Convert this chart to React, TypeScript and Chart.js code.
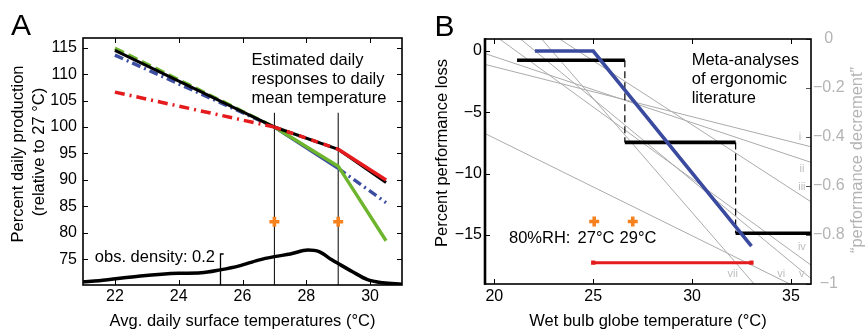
import React, { useEffect, useRef } from 'react';
import { Chart, registerables } from 'chart.js';
Chart.register(...registerables);

const FONT = "'Liberation Sans', Arial, Helvetica, sans-serif";
Chart.defaults.font.family = FONT;

// ---------------- Panel A data ----------------
const aXRange = [21, 31];
const aYRange = [70.14, 116.83];
const aXTicks = [22, 24, 26, 28, 30];
const aYTicks = [75, 80, 85, 90, 95, 100, 105, 110, 115];
const aLineX = [22, 27, 29, 30.5];
const aBlack = [114.5, 100, 95.8, 89.5];
const aGreen = [114.9, 100, 92.6, 78.5];
const aBlue = [113.6, 100, 92.2, 85.7];
const aRed = [106.6, 100, 95.8, 90.0];
const aRefX = [27, 29];
const aRefTop = 102.7;
const aMarkerX = [27, 29];
const aMarkerY = [82.1, 82.1];
const aDensX = [21, 21.5, 22.8, 24, 24.7, 25.3, 25.9, 26.5, 27, 27.5, 28.05, 28.4, 28.8, 29, 29.45, 29.9, 30.4, 31];
const aDensY = [70.75, 70.95, 71.85, 72.35, 72.45, 73.0, 73.75, 74.85, 75.5, 76.0, 76.75, 76.45, 74.9, 74.2, 72.65, 71.2, 70.55, 70.3];
const aDensBarX = [25.31, 25.41];
const aDensBarTop = 76.0;
const aNote = ['Estimated daily', 'responses to daily', 'mean temperature'];
const aDensLabel = 'obs. density: 0.2';
const aXTitle = 'Avg. daily surface temperatures (°C)';
const aYTitle = ['Percent daily production', '(relative to 27 °C)'];

// ---------------- Panel B data ----------------
const bXRange = [19.53, 36.01];
const bYRange = [-18.99, 0.98];
const bY2Range = [-1, 0];
const bXTicks = [20, 25, 30, 35];
const bYTicks = [0, -5, -10, -15];
const bY2Ticks = [0, -0.2, -0.4, -0.6, -0.8, -1];
const bBlueX = [22.05, 25, 33];
const bBlueY = [0, 0, -15.9];
const bStepX = [21.15, 26.6, 32.2, 36.01];
const bStepY = [-0.75, -7.45, -14.85];
const bRangeX = [25, 33];
const bRangeY = [-17.25, -17.25];
const bMarkerX = [25.05, 27.0];
const bMarkerY = [-13.9, -13.9];
const bMarkerLabels = ['27°C', '29°C'];
const bRHLabel = '80%RH:';
const bGrayNames = ['i', 'ii', 'iii', 'iv', 'v', 'vi', 'vii'];
const bGrayX0 = [19.5, 19.5, 23.33, 20.29, 21.35, 19.5, 22.41];
const bGrayY0 = [-1.08, -0.19, 0.95, 0.95, 0.95, -6.7, 0.95];
const bGrayX1 = [36, 36, 36, 36, 36, 34.95, 33.14];
const bGrayY1 = [-7.8, -9.07, -12.28, -17.44, -18.53, -19, -19];
const bGrayLabelX = [35.45, 35.55, 35.55, 35.55, 35.54, 34.5, 32.05];
const bGrayLabelY = [-6.98, -9.62, -11.06, -16.0, -18.2, -18.2, -18.2];
const bNote = ['Meta-analyses', 'of ergonomic', 'literature'];
const bXTitle = 'Wet bulb globe temperature (°C)';
const bYTitle = 'Percent performance loss';
const bY2Title = '\u201cperformance decrement\u201d';

const ORANGE = '#f5821f';
const GRAY_TXT = '#b4b4b4';
const MINUS = '\u2212';

const pts = (xs: number[], ys: number[]) => xs.map((x, i) => ({ x, y: ys[i] }));

type TextItem = {
  text: string; x: number; y: number; size?: number; color?: string;
  align?: CanvasTextAlign; baseline?: CanvasTextBaseline; rotate?: number; data?: boolean;
};

const makeTextPlugin = (items: TextItem[]) => ({
  id: 'texts',
  afterDraw(chart: any) {
    const ctx = chart.ctx as CanvasRenderingContext2D;
    items.forEach((it) => {
      let x = it.x, y = it.y;
      if (it.data) {
        x = chart.scales.x.getPixelForValue(it.x);
        y = chart.scales.y.getPixelForValue(it.y);
      }
      ctx.save();
      ctx.font = `${it.size ?? 16.5}px ${FONT}`;
      ctx.fillStyle = it.color ?? '#000';
      ctx.textAlign = it.align ?? 'left';
      ctx.textBaseline = it.baseline ?? 'middle';
      ctx.translate(x, y);
      if (it.rotate) ctx.rotate(it.rotate);
      ctx.fillText(it.text, 0, 0);
      ctx.restore();
    });
  },
});

const makeBoxPlugin = (leftWidth: number) => ({
  id: 'box',
  afterDatasetsDraw(chart: any) {
    const { ctx, chartArea: ca, scales } = chart;
    const L = 5;
    const seg = (x0: number, y0: number, x1: number, y1: number) => {
      ctx.beginPath(); ctx.moveTo(x0, y0); ctx.lineTo(x1, y1); ctx.stroke();
    };
    ctx.save();
    ctx.strokeStyle = '#000';
    ctx.lineWidth = 1;
    scales.x.ticks.forEach((t: any) => {
      const p = Math.round(scales.x.getPixelForValue(t.value)) + 0.5;
      seg(p, ca.bottom, p, ca.bottom - L);
      seg(p, ca.top, p, ca.top + L);
    });
    scales.y.ticks.forEach((t: any) => {
      const p = Math.round(scales.y.getPixelForValue(t.value)) + 0.5;
      seg(ca.left, p, ca.left + L, p);
      if (!scales.y2) seg(ca.right, p, ca.right - L, p);
    });
    if (scales.y2) {
      ctx.strokeStyle = '#555';
      scales.y2.ticks.forEach((t: any) => {
        const p = Math.round(scales.y2.getPixelForValue(t.value)) + 0.5;
        seg(ca.right, p, ca.right - L, p);
      });
    }
    ctx.strokeStyle = '#000';
    ctx.lineWidth = 1.6;
    ctx.strokeRect(ca.left, ca.top, ca.right - ca.left, ca.bottom - ca.top);
    if (leftWidth > 1.6) {
      ctx.lineWidth = leftWidth;
      seg(ca.left, ca.top - 0.8, ca.left, ca.bottom + 0.8);
    }
    ctx.restore();
  },
});

const setTicks = (arr: number[]) => (s: any) => { s.ticks = arr.map((v) => ({ value: v })); };
const minusFmt = (v: number) => (v < 0 ? MINUS + String(Math.abs(v)) : String(v));

const lineDs = (data: any[], color: string, width: number, extra: any = {}) => ({
  data, borderColor: color, backgroundColor: color, borderWidth: width,
  pointRadius: 0, pointHoverRadius: 0, fill: false, tension: 0, ...extra,
});

const markerDs = (data: any[]) => ({
  data, showLine: false, order: 0,
  pointStyle: 'cross', pointRadius: 5, pointBorderWidth: 3.6,
  pointBorderColor: ORANGE, borderColor: ORANGE, backgroundColor: ORANGE,
});

function configA(): any {
  const datasets: any[] = [
    lineDs(pts(aLineX, aRed), '#e41a1c', 3.5, {
      order: 1,
      segment: { borderDash: (c: any) => (c.p0DataIndex === 0 ? [10, 5, 2, 5] : c.p0DataIndex === 1 ? [7, 6] : undefined) },
    }),
    lineDs(pts(aLineX, aBlack), '#000000', 3, { order: 2 }),
    lineDs(pts(aLineX, aGreen), '#6cb52d', 3.4, {
      order: 3,
      segment: { borderDash: (c: any) => (c.p0DataIndex === 0 ? [10, 5] : undefined) },
    }),
    lineDs(pts(aLineX, aBlue), '#3c4ea0', 3.4, {
      order: 4,
      segment: { borderDash: (c: any) => (c.p0DataIndex === 1 ? undefined : [9, 4, 2, 4]) },
    }),
    lineDs(pts(aDensX, aDensY), '#000000', 3.5, { order: 5, tension: 0.4, cubicInterpolationMode: 'monotone' }),
    lineDs([{ x: aDensBarX[0], y: aYRange[0] }, { x: aDensBarX[0], y: aDensBarTop }, { x: aDensBarX[1], y: aDensBarTop }], '#000000', 1.3, { order: 6 }),
    ...aRefX.map((x) => lineDs([{ x, y: aYRange[0] }, { x, y: aRefTop }], '#000000', 1, { order: 7 })),
    markerDs(pts(aMarkerX, aMarkerY)),
  ];
  const texts: TextItem[] = [
    { text: 'A', x: 11, y: 35, size: 30, baseline: 'alphabetic' },
    { text: aYTitle[0], x: 18, y: 154, rotate: -Math.PI / 2, align: 'center' },
    { text: aYTitle[1], x: 39, y: 152, rotate: -Math.PI / 2, align: 'center' },
    ...aNote.map((t, i) => ({ text: t, x: 251.5, y: 60 + i * 19.4 })),
    { text: aDensLabel, x: 215, y: 257, align: 'right' as CanvasTextAlign },
  ];
  return {
    type: 'line',
    data: { datasets },
    plugins: [makeBoxPlugin(0), makeTextPlugin(texts)],
    options: {
      responsive: false, animation: false, devicePixelRatio: 1,
      layout: { padding: { left: 0, top: 38, right: 30, bottom: 0 } },
      plugins: { legend: { display: false }, tooltip: { enabled: false } },
      scales: {
        x: {
          type: 'linear', min: aXRange[0], max: aXRange[1],
          afterBuildTicks: setTicks(aXTicks), afterFit: (s: any) => { s.height = 46; },
          grid: { display: false, drawTicks: false }, border: { display: false },
          ticks: { padding: 2, color: '#000', font: { size: 16 }, maxRotation: 0, autoSkip: false },
          title: { display: true, text: aXTitle, color: '#000', font: { size: 16.5 }, padding: 0 },
        },
        y: {
          type: 'linear', min: aYRange[0], max: aYRange[1],
          afterBuildTicks: setTicks(aYTicks), afterFit: (s: any) => { s.width = 83; },
          grid: { display: false, drawTicks: false }, border: { display: false },
          ticks: { padding: 6, color: '#000', font: { size: 16 }, autoSkip: false },
        },
      },
    },
  };
}

function configB(): any {
  const stepH: any[] = [];
  const stepV: any[] = [];
  bStepY.forEach((y, i) => {
    if (i > 0) stepH.push({ x: bStepX[i], y: null });
    stepH.push({ x: bStepX[i], y }, { x: bStepX[i + 1], y });
    if (i < bStepY.length - 1) {
      if (i > 0) stepV.push({ x: bStepX[i + 1], y: null });
      stepV.push({ x: bStepX[i + 1], y }, { x: bStepX[i + 1], y: bStepY[i + 1] });
    }
  });
  const datasets: any[] = [
    lineDs(pts(bBlueX, bBlueY), '#3a4a9f', 3.6, { order: 1 }),
    lineDs(stepH, '#000000', 3.6, { order: 2, spanGaps: false, borderCapStyle: 'butt' }),
    lineDs(stepV, '#000000', 1.2, { order: 3, spanGaps: false, borderDash: [7, 4] }),
    lineDs(pts(bRangeX, bRangeY), '#e41a1c', 3, {
      order: 1, pointRadius: 3, pointStyle: 'rect', pointBackgroundColor: '#e41a1c', pointBorderColor: '#e41a1c', pointBorderWidth: 0,
    }),
    markerDs(pts(bMarkerX, bMarkerY)),
    ...bGrayNames.map((_, i) =>
      lineDs([{ x: bGrayX0[i], y: bGrayY0[i] }, { x: bGrayX1[i], y: bGrayY1[i] }], '#ababab', 1, { order: 10 })),
  ];
  const markerLabelX = [164, 206];
  const texts: TextItem[] = [
    { text: 'B', x: 2.5, y: 35.5, size: 30, baseline: 'alphabetic' },
    { text: bYTitle, x: 10, y: 153, rotate: -Math.PI / 2, align: 'center' },
    { text: bY2Title, x: 425.5, y: 160, rotate: -Math.PI / 2, align: 'center', color: GRAY_TXT },
    ...bNote.map((t, i) => ({ text: t, x: 259.7, y: 60 + i * 19.4 })),
    { text: bRHLabel, x: 77, y: 238.3 },
    ...bMarkerLabels.map((t, i) => ({ text: t, x: markerLabelX[i], y: 238.3, align: 'center' as CanvasTextAlign })),
    ...bGrayNames.map((t, i) => ({ text: t, x: bGrayLabelX[i], y: bGrayLabelY[i], data: true, size: 11, color: '#bdbdbd', align: 'center' as CanvasTextAlign })),
  ];
  return {
    type: 'line',
    data: { datasets },
    plugins: [makeBoxPlugin(2.6), makeTextPlugin(texts)],
    options: {
      responsive: false, animation: false, devicePixelRatio: 1,
      layout: { padding: { left: 0, top: 39, right: 0, bottom: 0 } },
      plugins: { legend: { display: false }, tooltip: { enabled: false } },
      scales: {
        x: {
          type: 'linear', min: bXRange[0], max: bXRange[1],
          afterBuildTicks: setTicks(bXTicks), afterFit: (s: any) => { s.height = 47; },
          grid: { display: false, drawTicks: false }, border: { display: false },
          ticks: { padding: 3, color: '#000', font: { size: 16 }, maxRotation: 0, autoSkip: false },
          title: { display: true, text: bXTitle, color: '#000', font: { size: 16.5 }, padding: 0 },
        },
        y: {
          type: 'linear', position: 'left', min: bYRange[0], max: bYRange[1],
          afterBuildTicks: setTicks(bYTicks), afterFit: (s: any) => { s.width = 53; },
          grid: { display: false, drawTicks: false }, border: { display: false },
          ticks: { padding: 3, color: '#000', font: { size: 16 }, autoSkip: false, callback: (v: number) => minusFmt(v) },
        },
        y2: {
          type: 'linear', position: 'right', min: bY2Range[0], max: bY2Range[1],
          afterBuildTicks: setTicks(bY2Ticks), afterFit: (s: any) => { s.width = 54; },
          grid: { display: false, drawTicks: false }, border: { display: false },
          ticks: { padding: 2, crossAlign: 'center', color: GRAY_TXT, font: { size: 16 }, autoSkip: false, callback: (v: number) => minusFmt(v) },
        },
      },
    },
  };
}

function Panel({ make, left, width }: { make: () => any; left: number; width: number }) {
  const ref = useRef<HTMLCanvasElement>(null);
  useEffect(() => {
    const chart = new Chart(ref.current as HTMLCanvasElement, make());
    return () => chart.destroy();
  }, [make]);
  return (
    <canvas
      ref={ref}
      width={width}
      height={331}
      style={{ position: 'absolute', left, top: 0, width, height: 331, display: 'block' }}
    />
  );
}

export default function App() {
  return (
    <div style={{ position: 'absolute', left: 0, top: 0, width: 865, height: 331, background: '#fff', overflow: 'hidden' }}>
      <Panel make={configA} left={0} width={432} />
      <Panel make={configB} left={432} width={433} />
    </div>
  );
}
